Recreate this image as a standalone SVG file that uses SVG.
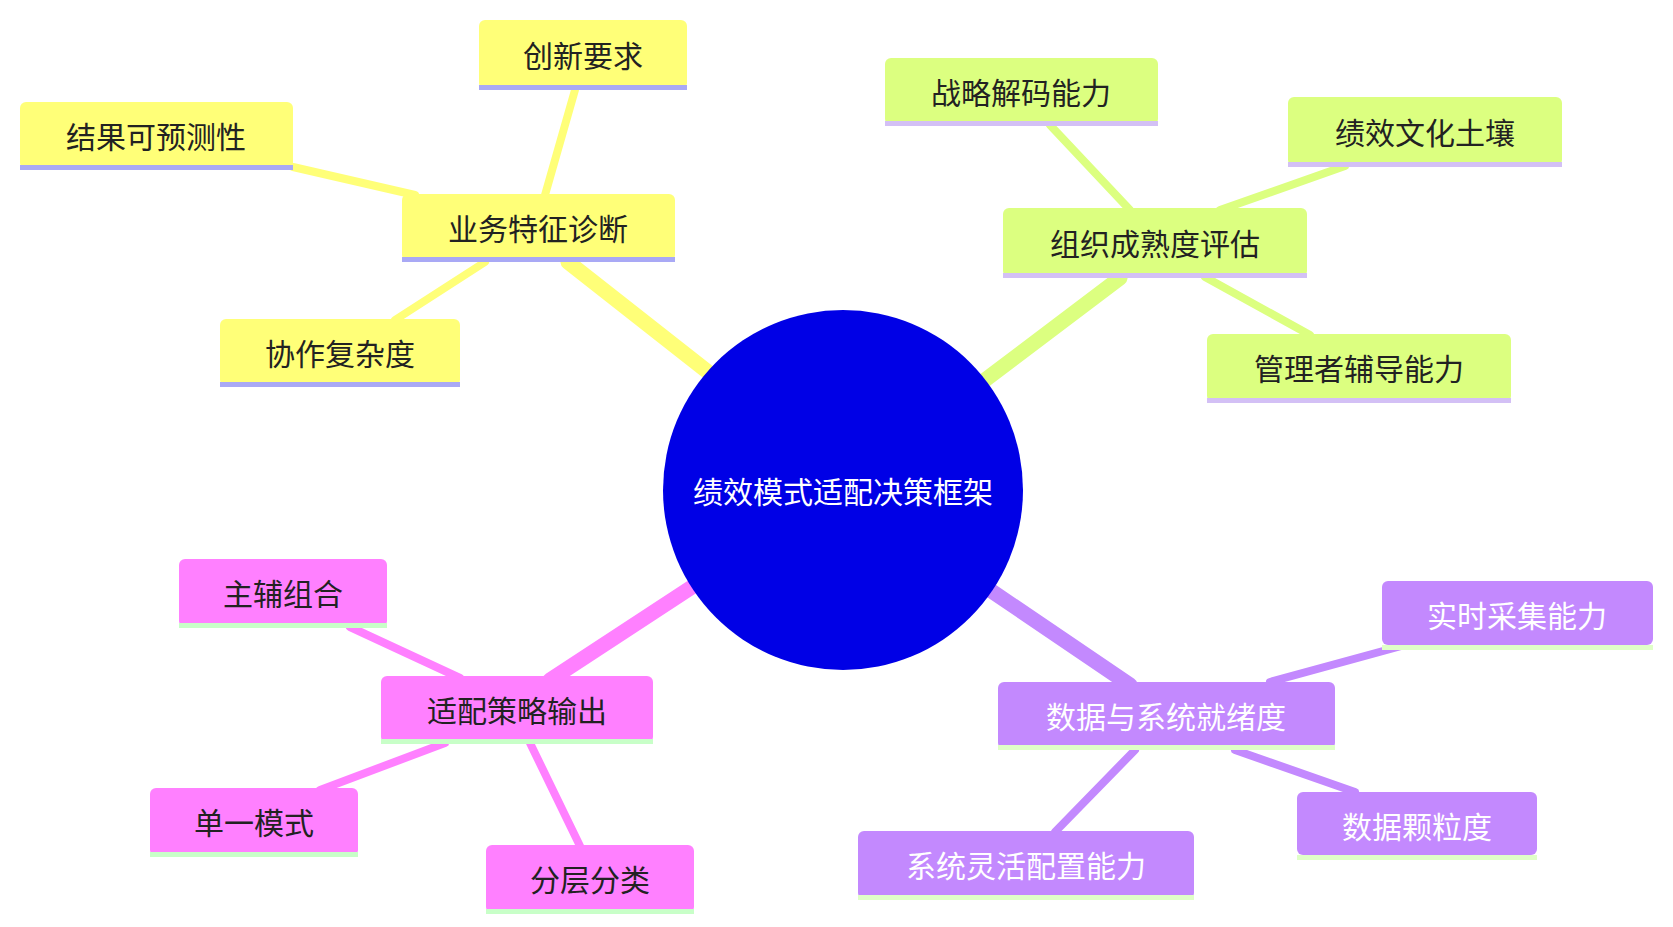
<svg xmlns="http://www.w3.org/2000/svg" width="1673" height="927" viewBox="0 0 1673 927">
<style>
text{font-family:"Noto Sans CJK SC","Noto Sans",sans-serif;font-size:30px;text-anchor:middle;dominant-baseline:central;fill:#222}
.w{fill:#fff}
.y{fill:#ffff78}.l{fill:#dcff80}.p{fill:#ff80ff}.v{fill:#c389fe}
.by{fill:#a9a9f5}.bl{fill:#d3c0f5}.bp{fill:#c8ffc8}.bv{fill:#e0ffc8}
line{stroke-linecap:round}
.a{stroke-width:15}.b{stroke-width:8}
.sy{stroke:#ffff78}.sl{stroke:#dcff80}.sp{stroke:#ff80ff}.sv{stroke:#c389fe}
</style>
<rect width="1673" height="927" fill="#fff"/>
<g id="connectors">
<line class="a sy" x1="708" y1="372" x2="568" y2="262"/>
<line class="a sl" x1="985" y1="380" x2="1120" y2="278"/>
<line class="a sp" x1="695" y1="585" x2="550" y2="680"/>
<line class="a sv" x1="990" y1="590" x2="1130" y2="685"/>
<line class="b sy" x1="545" y1="195" x2="575" y2="90"/>
<line class="b sy" x1="415" y1="195" x2="293" y2="167"/>
<line class="b sy" x1="485" y1="262" x2="395" y2="320"/>
<line class="b sl" x1="1130" y1="210" x2="1050" y2="125"/>
<line class="b sl" x1="1220" y1="210" x2="1345" y2="166"/>
<line class="b sl" x1="1205" y1="277" x2="1310" y2="335"/>
<line class="b sp" x1="460" y1="678" x2="350" y2="627"/>
<line class="b sp" x1="445" y1="743" x2="320" y2="790"/>
<line class="b sp" x1="530" y1="743" x2="580" y2="846"/>
<line class="b sv" x1="1270" y1="682" x2="1405" y2="645"/>
<line class="b sv" x1="1235" y1="750" x2="1355" y2="792"/>
<line class="b sv" x1="1135" y1="750" x2="1055" y2="832"/>
</g>
<g id="root"><circle cx="843" cy="490" r="180" fill="#0000e6"/><text class="w" x="843" y="490">绩效模式适配决策框架</text></g>
<g id="n1"><rect class="y" x="402" y="194" width="273" height="67" rx="6"/><rect class="by" x="402" y="257" width="273" height="5"/><text x="538" y="227">业务特征诊断</text></g>
<g id="n1a"><rect class="y" x="479" y="20" width="208" height="69" rx="6"/><rect class="by" x="479" y="85" width="208" height="5"/><text x="583" y="54">创新要求</text></g>
<g id="n1b"><rect class="y" x="20" y="102" width="273" height="67" rx="6"/><rect class="by" x="20" y="165" width="273" height="5"/><text x="156" y="135">结果可预测性</text></g>
<g id="n1c"><rect class="y" x="220" y="319" width="240" height="67" rx="6"/><rect class="by" x="220" y="382" width="240" height="5"/><text x="340" y="352">协作复杂度</text></g>
<g id="n2"><rect class="l" x="1003" y="208" width="304" height="69" rx="6"/><rect class="bl" x="1003" y="273" width="304" height="5"/><text x="1155" y="242">组织成熟度评估</text></g>
<g id="n2a"><rect class="l" x="885" y="58" width="273" height="67" rx="6"/><rect class="bl" x="885" y="121" width="273" height="5"/><text x="1021" y="91">战略解码能力</text></g>
<g id="n2b"><rect class="l" x="1288" y="97" width="274" height="69" rx="6"/><rect class="bl" x="1288" y="162" width="274" height="5"/><text x="1425" y="131">绩效文化土壤</text></g>
<g id="n2c"><rect class="l" x="1207" y="334" width="304" height="68" rx="6"/><rect class="bl" x="1207" y="398" width="304" height="5"/><text x="1359" y="367">管理者辅导能力</text></g>
<g id="n3"><rect class="p" x="381" y="676" width="272" height="67" rx="6"/><rect class="bp" x="381" y="739" width="272" height="5"/><text x="517" y="709">适配策略输出</text></g>
<g id="n3a"><rect class="p" x="179" y="559" width="208" height="68" rx="6"/><rect class="bp" x="179" y="623" width="208" height="5"/><text x="283" y="592">主辅组合</text></g>
<g id="n3b"><rect class="p" x="150" y="788" width="208" height="68" rx="6"/><rect class="bp" x="150" y="852" width="208" height="5"/><text x="254" y="821">单一模式</text></g>
<g id="n3c"><rect class="p" x="486" y="845" width="208" height="68" rx="6"/><rect class="bp" x="486" y="909" width="208" height="5"/><text x="590" y="878">分层分类</text></g>
<g id="n4"><rect class="v" x="998" y="682" width="337" height="67" rx="6"/><rect class="bv" x="998" y="745" width="337" height="5"/><text class="w" x="1166" y="715">数据与系统就绪度</text></g>
<g id="n4a"><rect class="v" x="1382" y="581" width="271" height="64" rx="6"/><rect class="bv" x="1382" y="645" width="271" height="5"/><text class="w" x="1517" y="614">实时采集能力</text></g>
<g id="n4b"><rect class="v" x="1297" y="792" width="240" height="63" rx="6"/><rect class="bv" x="1297" y="855" width="240" height="5"/><text class="w" x="1417" y="825">数据颗粒度</text></g>
<g id="n4c"><rect class="v" x="858" y="831" width="336" height="68" rx="6"/><rect class="bv" x="858" y="895" width="336" height="5"/><text class="w" x="1026" y="864">系统灵活配置能力</text></g>
</svg>
